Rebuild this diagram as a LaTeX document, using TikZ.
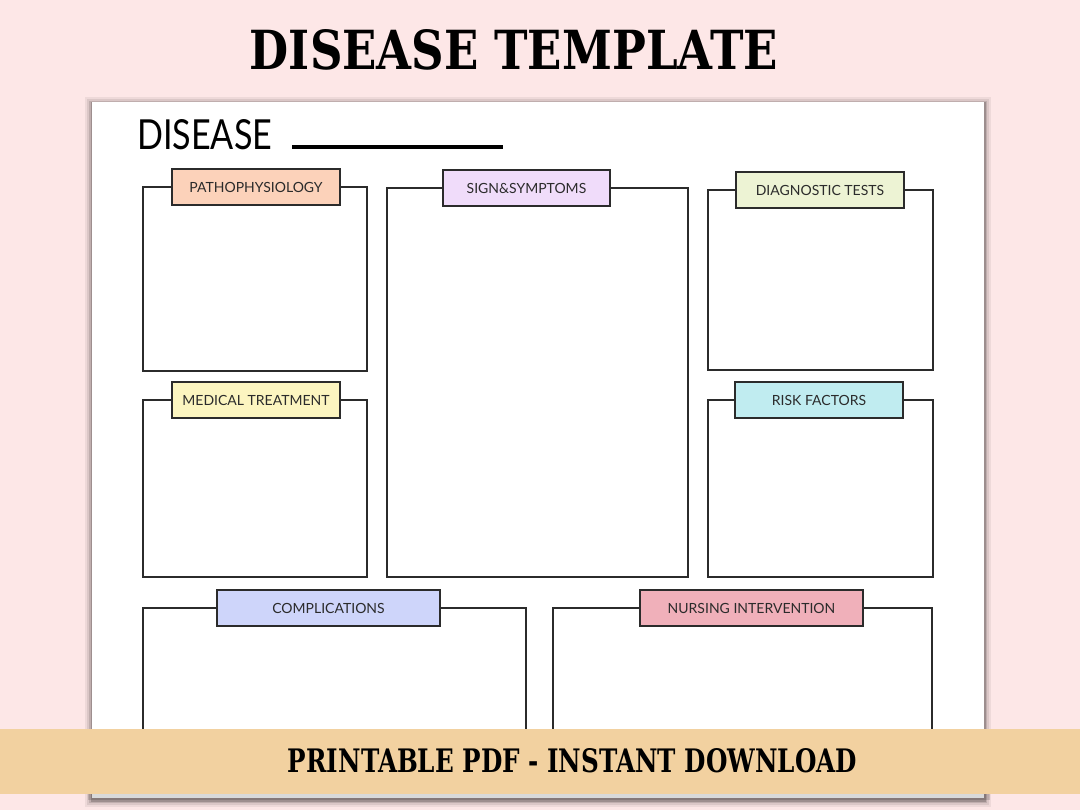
\documentclass[tikz,border=0pt]{standalone}
\usepackage{fontspec}
\usepackage{graphicx}
\newfontfamily\headfont{DejaVu Serif}
\newfontfamily\lblfont{Lato}
\definecolor{bgpink}{HTML}{FDE7E7}
\definecolor{bannerc}{HTML}{F2D1A0}
\definecolor{cpeach}{HTML}{FCD2BA}
\definecolor{clav}{HTML}{F0DCFA}
\definecolor{cgreen}{HTML}{EDF3D4}
\definecolor{cyellow}{HTML}{FCF5C0}
\definecolor{ccyan}{HTML}{C0ECF0}
\definecolor{cperi}{HTML}{CED5FA}
\definecolor{crose}{HTML}{F0B0BA}
\definecolor{inkgray}{HTML}{2B2B2B}
\tikzset{
  tag/.style={draw=inkgray,line width=1.6pt,minimum height=36pt,inner sep=0pt,
    font=\lblfont\fontsize{14}{14}\selectfont,text=inkgray},
  frame/.style={draw=inkgray,line width=1.6pt}
}

\begin{document}
\begin{tikzpicture}[x=1pt,y=-1pt]
  \fill[bgpink] (0,0) rectangle (1080,810);
  \useasboundingbox (0,0) rectangle (1080,810);

  % page with its shadow
  \foreach \d/\op in {7/0.06,5/0.08,3/0.12,1.5/0.18} {
    \fill[black,opacity=\op] (92-\d,102-\d+2) rectangle (984+\d,798+\d+2);
  }
  \fill[white] (92,102) rectangle (984,798);

  \node[inner sep=0pt,anchor=south] (title) at (514,70)
    {\resizebox{528pt}{40pt}{\headfont\bfseries DISEASE TEMPLATE}};

  \node[inner sep=0pt,anchor=south west] (disease) at (137,150)
    {\resizebox{135pt}{30pt}{\lblfont DISEASE}};
  \coordinate (lineA) at (292,147);
  \coordinate (lineB) at (503,147);
  \draw[line width=3.5pt] (lineA) -- (lineB);

  % panels: name/left/right/top/bottom/label x/label width/colour/text
  \foreach \nm/\xa/\xb/\ya/\yb/\lx/\lw/\col/\txt in {
      patho/143/367/187/371/256/168/cpeach/PATHOPHYSIOLOGY,
      sign/387/688/188/577/526.5/167/clav/SIGN\&SYMPTOMS,
      diag/708/933/190/370/820/168/cgreen/DIAGNOSTIC TESTS,
      med/143/367/400/577/256/168/cyellow/MEDICAL TREATMENT,
      risk/708/933/400/577/819/168/ccyan/RISK FACTORS,
      comp/143/526/608/770/328.5/223/cperi/COMPLICATIONS,
      nurs/553/932/608/770/751.5/223/crose/NURSING INTERVENTION} {
    \node[tag,fill=\col,minimum width=\lw pt] (\nm) at (\lx,\ya) {\txt};
    \draw[frame] (\nm.west) -- (\xa,\ya) -- (\xa,\yb) -- (\xb,\yb) -- (\xb,\ya) -- (\nm.east);
  }

  % banner
  \fill[black,opacity=0.15] (88,793) rectangle (990,800);
  \fill[bannerc] (0,729) rectangle (1080,794);
  \node[inner sep=0pt,anchor=south] (banner) at (572.5,773)
    {\resizebox{569pt}{24pt}{\headfont\bfseries PRINTABLE PDF - INSTANT DOWNLOAD}};
\end{tikzpicture}
\end{document}
